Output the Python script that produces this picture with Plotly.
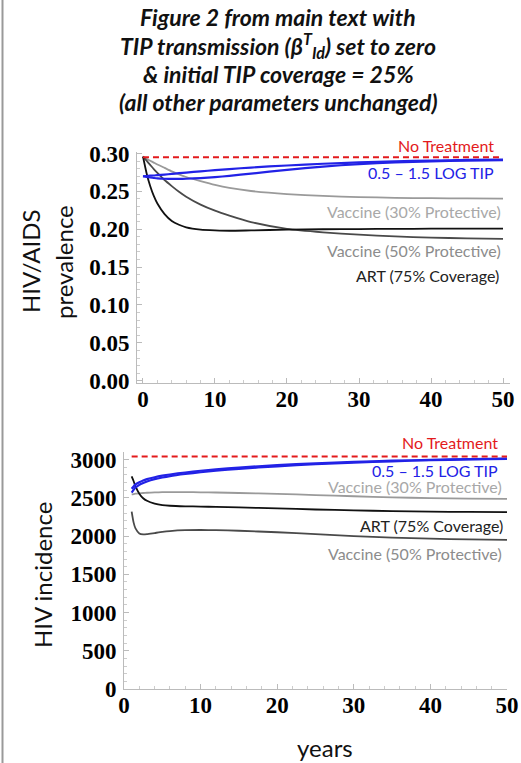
import plotly.graph_objects as go

W, H = 521, 763

# ---------------- data ----------------
# top panel: HIV/AIDS prevalence
t_prev = [0, 0.5, 1, 1.5, 2, 3, 4, 5, 6, 8, 10, 12, 15, 20, 25, 30, 35, 40, 45, 50]
prev_no_treatment_t = [0, 50]
prev_no_treatment = [0.295, 0.295]
prev_tip_hi = [0.270, 0.2703, 0.2707, 0.271, 0.2715, 0.2722, 0.273, 0.274, 0.2748, 0.2765,
               0.278, 0.2795, 0.2815, 0.2842, 0.2865, 0.2883, 0.2897, 0.2907, 0.2915, 0.292]
prev_tip_lo = [0.270, 0.269, 0.2683, 0.2677, 0.2672, 0.2667, 0.2665, 0.2665, 0.2667, 0.2675,
               0.2688, 0.2705, 0.2735, 0.2785, 0.2828, 0.286, 0.2882, 0.2897, 0.2907, 0.2913]
prev_vac30 = [0.296, 0.293, 0.2905, 0.288, 0.2855, 0.281, 0.2765, 0.2725, 0.269, 0.2635,
              0.2585, 0.2545, 0.2505, 0.2465, 0.2440, 0.2425, 0.2415, 0.2410, 0.2407, 0.2405]
prev_vac50 = [0.296, 0.2905, 0.285, 0.2795, 0.2745, 0.265, 0.257, 0.2495, 0.243, 0.2325,
              0.2245, 0.218, 0.2095, 0.2005, 0.196, 0.1928, 0.1905, 0.189, 0.188, 0.1872]
prev_art = [0.296, 0.274, 0.257, 0.244, 0.234, 0.220, 0.211, 0.206, 0.2025, 0.1995,
            0.1985, 0.198, 0.1985, 0.1995, 0.2, 0.2003, 0.2005, 0.2007, 0.2008, 0.2009]

# bottom panel: HIV incidence
t_inc = [1, 1.25, 1.5, 2, 2.5, 3, 4, 5, 6, 8, 10, 12, 15, 20, 25, 30, 35, 40, 45, 50]
inc_no_treatment_t = [1, 50]
inc_no_treatment = [3040, 3040]
inc_tip_hi = [2620, 2650, 2675, 2705, 2728, 2745, 2770, 2790, 2806, 2832,
              2855, 2873, 2897, 2928, 2952, 2971, 2986, 2998, 3007, 3014]
inc_tip_lo = [2570, 2605, 2635, 2670, 2695, 2715, 2745, 2767, 2785, 2812,
              2835, 2855, 2880, 2913, 2940, 2961, 2978, 2992, 3002, 3010]
inc_vac30 = [2545, 2550, 2555, 2560, 2564, 2567, 2571, 2574, 2575, 2575,
             2573, 2570, 2564, 2552, 2537, 2521, 2507, 2497, 2491, 2488]
inc_vac50 = [2320, 2180, 2100, 2035, 2022, 2025, 2040, 2055, 2066, 2078,
             2080, 2078, 2070, 2050, 2025, 2000, 1980, 1966, 1956, 1950]
inc_art = [2780, 2720, 2650, 2555, 2495, 2462, 2425, 2405, 2397, 2390,
           2386, 2382, 2375, 2362, 2348, 2336, 2327, 2320, 2316, 2314]

x_ticks = [0, 10, 20, 30, 40, 50]
prev_ticks = [0.00, 0.05, 0.10, 0.15, 0.20, 0.25, 0.30]
inc_ticks = [0, 500, 1000, 1500, 2000, 2500, 3000]

title_lines = [
    "Figure 2 from main text with",
    "TIP transmission (β<sup>T</sup><sub>Id</sub>) set to zero",
    "& initial TIP coverage = 25%",
    "(all other parameters unchanged)",
]

# ---------------- styling ----------------
RED = "#e31a1c"
BLUE = "#2222e6"
C_ART = "#111111"
C_V50 = "#4a4a4a"
C_V30 = "#9a9a9a"


def px(x):
    return x / W


def py(y):
    return 1 - y / H


fig = go.Figure()


def add(x, y, color, xa, ya, width=1.8, dash=None):
    fig.add_trace(go.Scatter(x=x, y=y, mode="lines", xaxis=xa, yaxis=ya,
                             line=dict(color=color, width=width, dash=dash, shape="spline", smoothing=0.6),
                             showlegend=False, hoverinfo="skip"))


# top
add(t_prev, prev_vac30, C_V30, "x", "y")
add(t_prev, prev_vac50, C_V50, "x", "y")
add(t_prev, prev_art, C_ART, "x", "y")
add(t_prev, prev_tip_lo, BLUE, "x", "y", 2.2)
add(t_prev, prev_tip_hi, BLUE, "x", "y", 2.2)
add(prev_no_treatment_t, prev_no_treatment, RED, "x", "y", 2, "6px,4px")
# bottom
add(t_inc, inc_vac30, C_V30, "x2", "y2")
add(t_inc, inc_vac50, C_V50, "x2", "y2")
add(t_inc, inc_art, C_ART, "x2", "y2")
add(t_inc, inc_tip_lo, BLUE, "x2", "y2", 2.2)
add(t_inc, inc_tip_hi, BLUE, "x2", "y2", 2.2)
add(inc_no_treatment_t, inc_no_treatment, RED, "x2", "y2", 2, "6px,4px")

tickfont = dict(family="Liberation Serif", size=23, color="black", weight="bold")
axis_common = dict(showline=True, linecolor="#bbbbbb", linewidth=1, showgrid=False, zeroline=False,
                   ticks="inside", ticklen=5, tickcolor="#bbbbbb", tickfont=tickfont,
                   fixedrange=True, automargin=False)
minor_x = dict(dtick=2, ticks="inside", ticklen=3, tickcolor="#cccccc")

fig.update_layout(
    width=W, height=H, margin=dict(l=0, r=0, t=0, b=0, pad=0, autoexpand=False),
    paper_bgcolor="white", plot_bgcolor="white",
    xaxis=dict(domain=[px(137), px(510)], range=[-0.83, 50.97], anchor="y",
               tickvals=x_ticks, minor=minor_x, ticklabelstandoff=-5, **axis_common),
    yaxis=dict(domain=[py(383), py(152)], range=[-0.003, 0.302], anchor="x",
               tickvals=prev_ticks, tickformat=".2f",
               minor=dict(dtick=0.01, ticks="inside", ticklen=3, tickcolor="#cccccc"),
               ticklabelstandoff=2, **axis_common),
    xaxis2=dict(domain=[px(124), px(507)], range=[0, 50], anchor="y2",
                tickvals=x_ticks, minor=minor_x, ticklabelstandoff=-5, **axis_common),
    yaxis2=dict(domain=[py(689), py(452)], range=[0, 3100], anchor="x2",
                tickvals=inc_ticks,
                minor=dict(dtick=100, ticks="inside", ticklen=3, tickcolor="#cccccc"),
                ticklabelstandoff=2, **axis_common),
)

ann = []
P = dict(xref="paper", yref="paper", showarrow=False)
# title
for i, line in enumerate(title_lines):
    ann.append(dict(x=px(278), y=py(17 + 28.3 * i), text=line,
                    xanchor="center", yanchor="middle",
                    font=dict(family="Lato", size=23, color="#111", weight="bold", style="italic"), **P))

lab = dict(family="Lato", size=16)
labels = [
    # top
    ("No Treatment", 496, 146, RED),
    ("0.5 – 1.5 LOG TIP", 496, 172.5, BLUE),
    ("Vaccine (30% Protective)", 503, 212, "#a8a8a8"),
    ("Vaccine (50% Protective)", 503, 250.5, "#8c8c8c"),
    ("ART (75% Coverage)", 501, 275, "#222222"),
    # bottom
    ("No Treatment", 500, 442.5, RED),
    ("0.5 – 1.5 LOG TIP", 500, 470, BLUE),
    ("Vaccine (30% Protective)", 504, 486, "#a8a8a8"),
    ("ART (75% Coverage)", 505, 525, "#222222"),
    ("Vaccine (50% Protective)", 504, 553, "#8c8c8c"),
]
for text, x, y, c in labels:
    ann.append(dict(x=px(x), y=py(y), text=text, xanchor="right", yanchor="middle",
                    font=dict(color=c, **lab), **P))

axt = dict(family="Lato", size=24, color="#111")
ann.append(dict(x=px(30), y=py(261), text="HIV/AIDS", textangle=-90,
                xanchor="center", yanchor="middle", font=axt, **P))
ann.append(dict(x=px(63), y=py(262), text="prevalence", textangle=-90,
                xanchor="center", yanchor="middle", font=axt, **P))
ann.append(dict(x=px(42), y=py(575), text="HIV incidence", textangle=-90,
                xanchor="center", yanchor="middle", font=axt, **P))
ann.append(dict(x=px(325), y=py(747), text="years",
                xanchor="center", yanchor="middle", font=axt, **P))

fig.update_layout(annotations=ann)
fig.add_shape(type="line", xref="paper", yref="paper", x0=px(2.5), x1=px(2.5), y0=0, y1=1,
              line=dict(color="#999999", width=2))

fig.write_html("out.html", config={"displayModeBar": False},
               post_script="document.body.style.margin='0';document.body.style.padding='0';"
                           "document.documentElement.style.overflow='hidden';")
